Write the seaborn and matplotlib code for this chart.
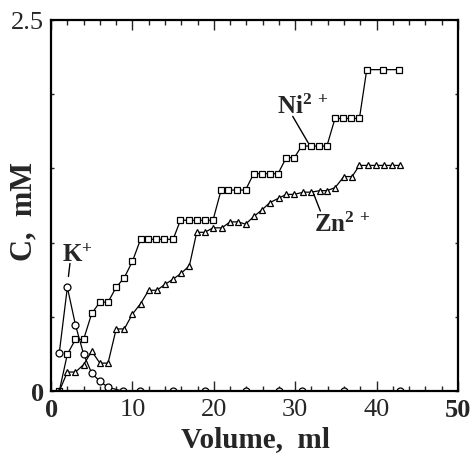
import matplotlib
matplotlib.use("Agg")
import matplotlib.pyplot as plt
import seaborn as sns
import pandas as pd
from matplotlib.ticker import MultipleLocator

# --- data ---
ni_vol = [1, 2, 3, 4, 5, 6, 7, 8, 9, 10, 11, 11.9, 12.9, 13.9, 15,
          15.9, 16.9, 17.9, 18.9, 19.9, 20.9, 21.8, 22.8, 23.9,
          24.9, 25.9, 26.9, 27.9, 28.9, 29.9, 30.8, 31.9, 32.9, 33.9,
          34.9, 35.9, 36.9, 37.9, 38.8, 40.8, 42.8]
ni_conc = [0, 0.25, 0.35, 0.35, 0.525, 0.60, 0.60, 0.70, 0.765, 0.875,
           1.023, 1.023, 1.023, 1.023, 1.023,
           1.151, 1.151, 1.151, 1.151, 1.151,
           1.354, 1.354, 1.354, 1.354,
           1.464, 1.464, 1.464, 1.464,
           1.572, 1.572,
           1.65, 1.65, 1.65, 1.65,
           1.836, 1.836, 1.836, 1.836,
           2.164, 2.164, 2.164]

zn_vol = [1, 2, 3, 4, 5, 6, 7, 8, 9, 10, 11, 12, 13, 14, 15, 16, 17,
          17.9, 18.9, 19.9, 21, 22, 23, 23.9, 25, 25.9, 26.9, 28, 28.9,
          29.9, 31, 32, 33, 33.9, 34.9, 36, 37, 37.9, 38.9, 39.9, 40.9,
          41.9, 42.9]
zn_conc = [0, 0.13, 0.13, 0.18, 0.27, 0.19, 0.19, 0.42, 0.42, 0.52, 0.59,
           0.68, 0.68, 0.72, 0.755, 0.795, 0.845, 1.07, 1.07, 1.10, 1.10,
           1.14, 1.14, 1.125, 1.18, 1.22, 1.27, 1.30, 1.325, 1.325, 1.34,
           1.34, 1.35, 1.35, 1.37, 1.445, 1.445, 1.52, 1.52, 1.52, 1.52,
           1.52, 1.52]

k_vol = [1, 2, 3, 4, 5, 6, 7, 8.9, 10.9, 15, 18.9, 23.9, 28, 30.8, 36, 42.9]
k_conc = [0.256, 0.70, 0.446, 0.25, 0.122, 0.068, 0.028, 0, 0, 0, 0, 0,
          0, 0, 0, 0]

# label text, label anchor (left, baseline), leader start, leader end
labels = [r'$\mathbf{K^{+}}$', r'$\mathbf{Ni^{2\,+}}$', r'$\mathbf{Zn^{2\,+}}$']
label_xy = [(1.3, 0.88), (27.8, 1.87), (32.3, 1.08)]
leader_from = [(2.32, 0.86), (29.7, 1.85), (32.3, 1.325)]
leader_to = [(2.13, 0.773), (31.6, 1.672), (33.1, 1.213)]

sns.set_style('ticks')
plt.rcParams['font.family'] = ['Liberation Serif', 'DejaVu Serif']
plt.rcParams['mathtext.fontset'] = 'custom'
plt.rcParams['mathtext.bf'] = 'Liberation Serif:bold'
plt.rcParams['mathtext.rm'] = 'Liberation Serif'

fig = plt.figure(figsize=(4.73, 4.6), dpi=100)
ax = fig.add_axes([0.108, 0.147, 0.860, 0.808])

series = [
    (ni_vol, ni_conc, 's', 4.2),
    (zn_vol, zn_conc, '^', 4.2),
    (k_vol, k_conc, 'o', 5.0),
]
for vol, conc, mk, ms in series:
    df = pd.DataFrame({'vol': vol, 'conc': conc})
    sns.lineplot(data=df, x='vol', y='conc', ax=ax, sort=False,
                 estimator=None, color='black', lw=0.9, marker=mk,
                 markersize=ms, markerfacecolor='white',
                 markeredgecolor='black', markeredgewidth=0.9)

for txt, pos, p0, p1 in zip(labels, label_xy, leader_from, leader_to):
    ax.annotate('', xy=p1, xytext=p0,
                arrowprops=dict(arrowstyle='-', color='black', lw=1.0,
                                shrinkA=0, shrinkB=0))
    ax.text(pos[0], pos[1], txt, fontsize=18, ha='left', va='baseline')

ax.set_xlim(0, 50)
ax.set_ylim(0, 2.5)

ax.set_xticks([0, 10, 20, 30, 40, 50])
ax.set_xticklabels(['0', '10', '20', '30', '40', '50'], fontsize=19)
ax.xaxis.set_minor_locator(MultipleLocator(2))
ax.set_yticks([0, 0.5, 1.0, 1.5, 2.0, 2.5])
ax.set_yticklabels(['0', '', '', '', '', '2.5'], fontsize=19)
for lbl in (ax.get_xticklabels()[0], ax.get_xticklabels()[-1],
            ax.get_yticklabels()[0]):
    lbl.set_fontweight('bold')

ax.tick_params(axis='x', which='major', direction='in', length=7, width=1,
               top=True, pad=5)
ax.tick_params(axis='x', which='minor', direction='in', length=3.5,
               width=1, top=True)
ax.tick_params(axis='y', which='major', direction='in', length=2, width=1,
               right=True, pad=5)

for sp in ax.spines.values():
    sp.set_linewidth(1.6)
    sp.set_color('black')

ax.set_xlabel('Volume,  ml', fontsize=21, fontweight='bold')
ax.set_ylabel('C,  mM', fontsize=22, fontweight='bold')
ax.xaxis.set_label_coords(0.502, -0.09)
ax.yaxis.set_label_coords(-0.032, 0.488)

fig.savefig('out.png', dpi=100)
